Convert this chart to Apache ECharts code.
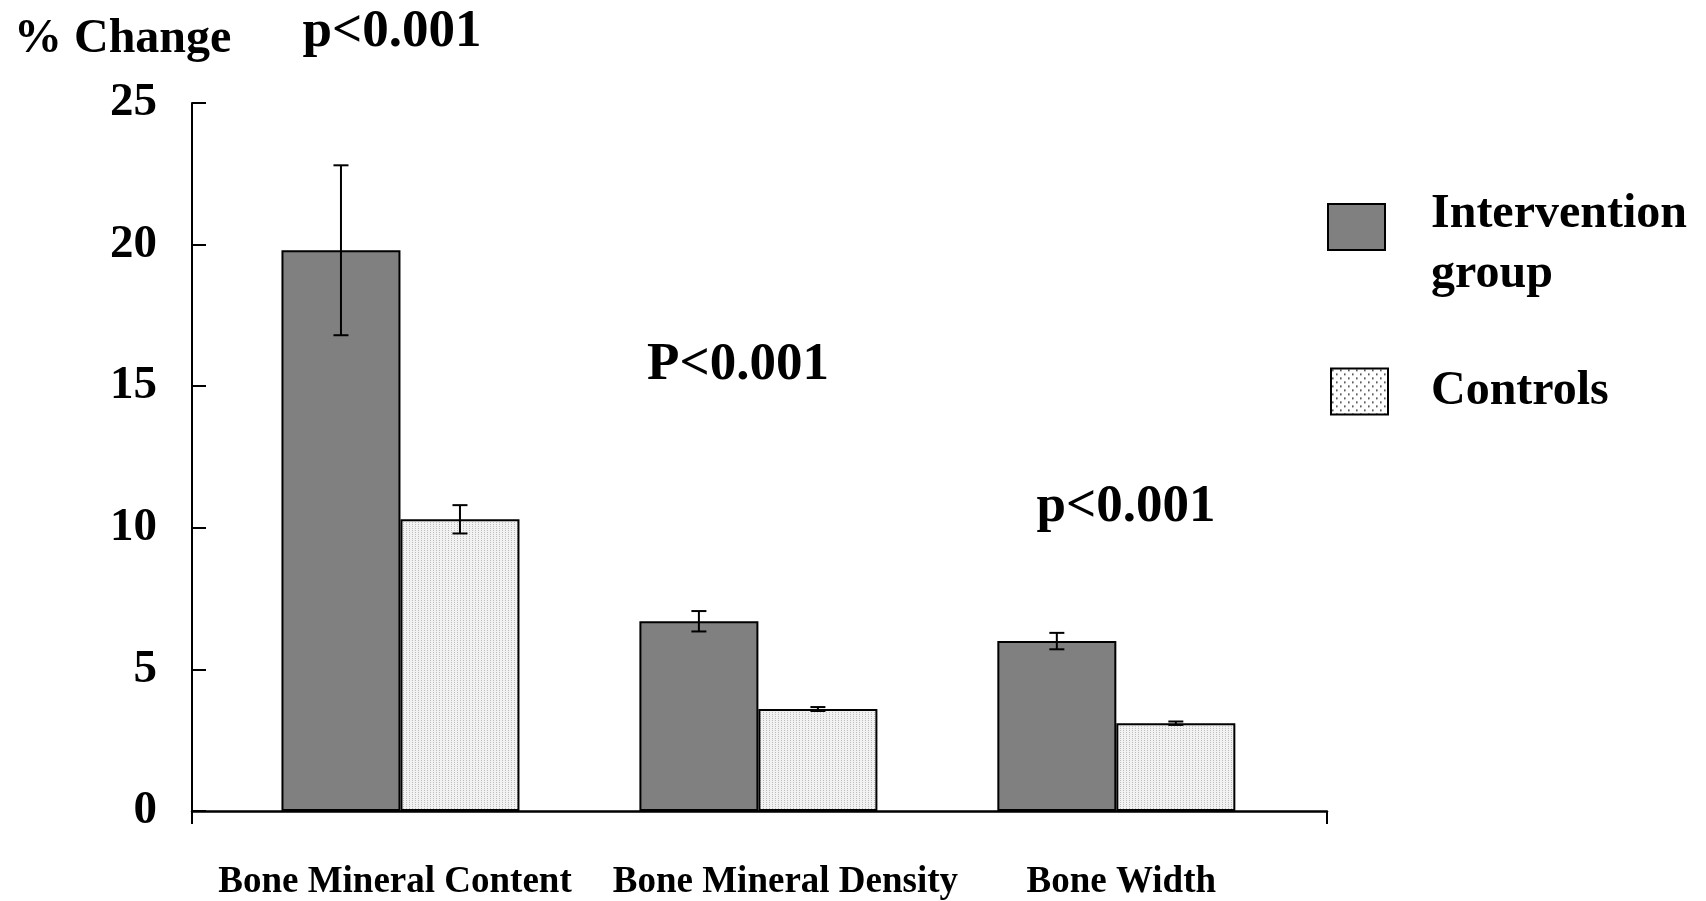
<!DOCTYPE html>
<html>
<head>
<meta charset="utf-8">
<script src="https://cdn.jsdelivr.net/npm/echarts@6/dist/echarts.min.js"></script>
<style>
html,body{margin:0;padding:0;background:#fff;}
#chart{width:1706px;height:901px;}
</style>
</head>
<body>
<div id="chart"></div>
<script>
// ---- data ----
const categories = ['Bone Mineral Content', 'Bone Mineral Density', 'Bone Width'];
const interventionValues = [19.8, 6.7, 6.0];
const interventionErrors = [3.0, 0.36, 0.29];
const controlValues = [10.3, 3.6, 3.1];
const controlErrors = [0.5, 0.07, 0.06];
const yMin = 0, yMax = 25, yInterval = 5;
const seriesNames = ['Intervention group', 'Controls'];
const pLabels = ['p<0.001', 'P<0.001', 'p<0.001'];
const yAxisTitle = '% Change';

// ---- styles ----
const FONT = '"Liberation Serif", "Times New Roman", serif';
function makePattern(w, h, bg, dots, dotColor, size) {
  const c = document.createElement('canvas');
  c.width = w; c.height = h;
  const ctx = c.getContext('2d');
  ctx.fillStyle = bg; ctx.fillRect(0, 0, w, h);
  ctx.fillStyle = dotColor;
  dots.forEach(d => ctx.fillRect(d[0], d[1], size, size));
  return c;
}
const barPattern = { image: makePattern(3, 2, '#f2f2f2', [[1, 0]], '#bcbcbc', 1), repeat: 'repeat' };
const legendPattern = { image: makePattern(8, 8, '#ffffff', [[1, 1], [5, 5]], '#333333', 1.6), repeat: 'repeat' };

const labelOffsets = [[0, 11, 0, 0], [0, 0, 0, 54], [0, 0, 0, 10]];

const chart = echarts.init(document.getElementById('chart'), null, { renderer: 'canvas' });

function errSeries(name, values, errors, sign) {
  return {
    type: 'custom',
    name: name + ' error',
    xAxisIndex: 1, yAxisIndex: 1,
    z: 5,
    silent: true,
    data: values.map((v, i) => [i, v - errors[i], v + errors[i]]),
    renderItem: function (params, api) {
      const i = api.value(0);
      const lo = api.coord([i, api.value(1)]);
      const hi = api.coord([i, api.value(2)]);
      const x = lo[0] + sign * 59.5;
      const cap = 7.5;
      const st = { stroke: '#000', lineWidth: 2 };
      return {
        type: 'group',
        children: [
          { type: 'line', shape: { x1: x, y1: lo[1], x2: x, y2: hi[1] }, style: st },
          { type: 'line', shape: { x1: x - cap, y1: lo[1], x2: x + cap, y2: lo[1] }, style: st },
          { type: 'line', shape: { x1: x - cap, y1: hi[1], x2: x + cap, y2: hi[1] }, style: st }
        ]
      };
    }
  };
}

const legendText = { fontFamily: FONT, fontWeight: 'bold', fontSize: 48, color: '#000' };

const option = {
  backgroundColor: '#fff',
  animation: false,
  grid: [
    { left: 192, right: 379, top: 103, bottom: 90 },
    { left: 221.5, right: 410.7, top: 103, bottom: 90 }
  ],
  xAxis: [
    {
      type: 'value', gridIndex: 0, min: 0, max: 1, interval: 1,
      axisLine: { show: true, lineStyle: { color: '#000', width: 2.5 } },
      axisTick: { show: true, inside: false, length: 13, lineStyle: { color: '#000', width: 2 } },
      axisLabel: { show: false },
      splitLine: { show: false }
    },
    {
      type: 'category', gridIndex: 1,
      data: categories.map((c, i) => ({ value: c, textStyle: { padding: labelOffsets[i] } })),
      axisLine: { show: false }, axisTick: { show: false },
      axisLabel: {
        show: true, interval: 0, margin: 53,
        fontFamily: FONT, fontWeight: 'bold', fontSize: 37, color: '#000'
      },
      splitLine: { show: false }
    }
  ],
  yAxis: [
    {
      type: 'value', gridIndex: 0, min: yMin, max: yMax, interval: yInterval,
      axisLine: { show: true, lineStyle: { color: '#000', width: 2 } },
      axisTick: { show: true, inside: true, length: 14, lineStyle: { color: '#000', width: 2 } },
      axisLabel: { fontFamily: FONT, fontWeight: 'bold', fontSize: 47, color: '#000', margin: 35 },
      splitLine: { show: false }
    },
    {
      type: 'value', gridIndex: 1, min: yMin, max: yMax, interval: yInterval, show: false,
      splitLine: { show: false }
    }
  ],
  legend: [
    {
      orient: 'vertical', left: 1327, top: 162, padding: 0,
      itemWidth: 57, itemHeight: 46,
      selectedMode: false,
      data: [{ name: seriesNames[0], icon: 'rect', itemStyle: { color: '#808080', borderColor: '#000', borderWidth: 2 } }],
      formatter: function () { return '{s| }\n{a|Intervention}\n{a|group}'; },
      textStyle: {
        fontFamily: FONT, fontWeight: 'bold', fontSize: 48, color: '#000',
        rich: {
          s: { fontSize: 10, lineHeight: 36, padding: [0, 0, 0, 41] },
          a: Object.assign({ lineHeight: 60, padding: [0, 0, 0, 41] }, legendText)
        }
      }
    },
    {
      orient: 'vertical', left: 1330, top: 365, padding: 0,
      itemWidth: 57, itemHeight: 46,
      selectedMode: false,
      data: [{ name: seriesNames[1], icon: 'rect', itemStyle: { color: legendPattern, borderColor: '#000', borderWidth: 2 } }],
      textStyle: { fontFamily: FONT, fontWeight: 'bold', fontSize: 48, color: '#000', lineHeight: 53, padding: [0, 0, 0, 38] }
    }
  ],
  graphic: [
    { type: 'text', left: 14, top: 16, style: { text: yAxisTitle, font: 'bold 48px ' + FONT, fill: '#000' } },
    { type: 'text', style: { text: pLabels[0], x: 392, y: 32, textAlign: 'center', textVerticalAlign: 'middle', font: 'bold 53px ' + FONT, fill: '#000' } },
    { type: 'text', style: { text: pLabels[1], x: 738, y: 365, textAlign: 'center', textVerticalAlign: 'middle', font: 'bold 53px ' + FONT, fill: '#000' } },
    { type: 'text', style: { text: pLabels[2], x: 1126, y: 507, textAlign: 'center', textVerticalAlign: 'middle', font: 'bold 53px ' + FONT, fill: '#000' } }
  ],
  series: [
    {
      name: seriesNames[0], type: 'bar', xAxisIndex: 1, yAxisIndex: 1,
      barWidth: 119, barGap: '0%',
      itemStyle: { color: '#808080', borderColor: '#000', borderWidth: 2 },
      data: interventionValues
    },
    {
      name: seriesNames[1], type: 'bar', xAxisIndex: 1, yAxisIndex: 1,
      barWidth: 119, barGap: '0%',
      itemStyle: { color: barPattern, borderColor: '#000', borderWidth: 2 },
      data: controlValues
    },
    errSeries(seriesNames[0], interventionValues, interventionErrors, -1),
    errSeries(seriesNames[1], controlValues, controlErrors, 1)
  ]
};
chart.setOption(option);
</script>
</body>
</html>
